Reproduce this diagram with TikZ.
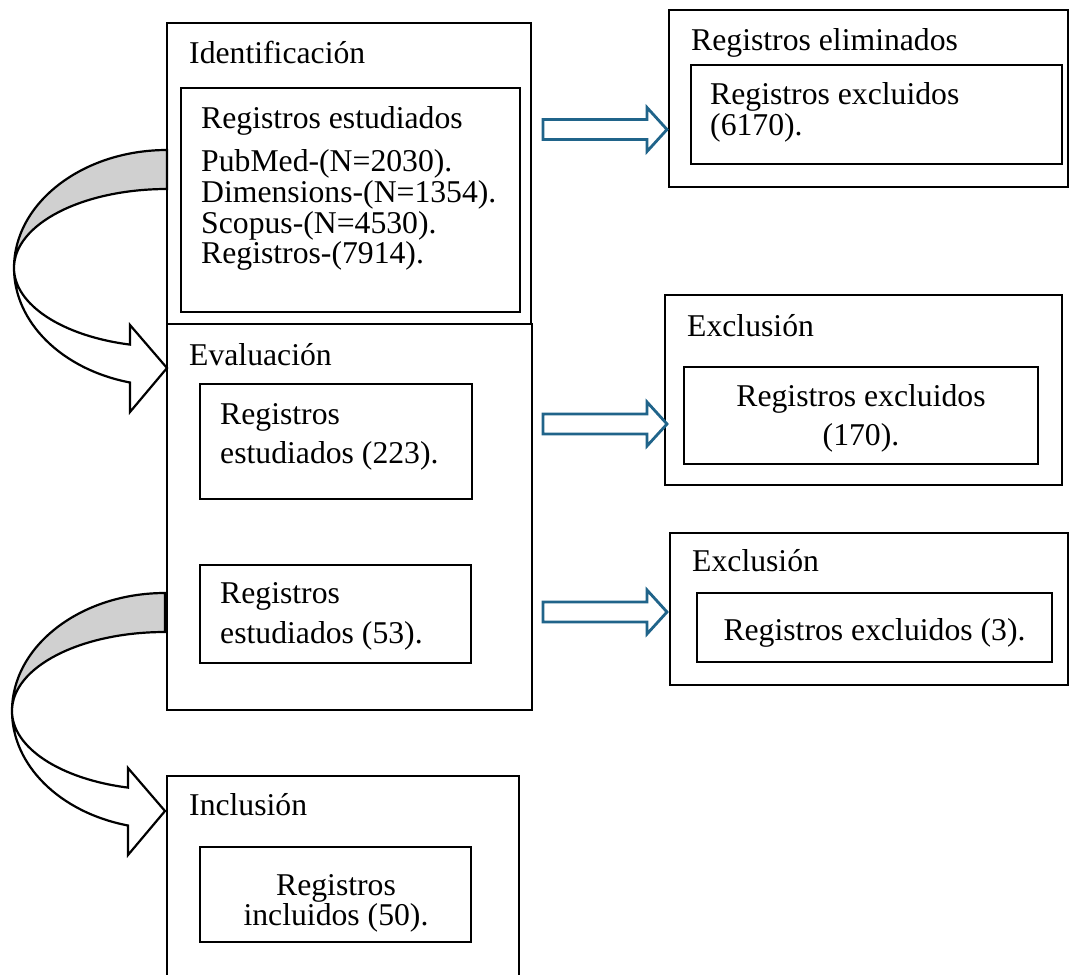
\documentclass[tikz,border=0pt]{standalone}
\usepackage{fontspec}
\setmainfont{Liberation Serif}
\definecolor{arrowblue}{RGB}{32,100,138}
\definecolor{bandgray}{RGB}{208,208,208}
\newcommand\diagfont{\fontsize{31.7}{29}\selectfont}
\begin{document}
\begin{tikzpicture}[x=1pt,y=-1pt,
  outerbox/.style={draw, line width=2pt, anchor=north west, inner sep=0pt, outer sep=0pt},
  innerbox/.style={draw, line width=1.3pt, anchor=north west, inner sep=0pt, outer sep=0pt},
  lbl/.style={anchor=base west, inner sep=0pt, font=\diagfont},
  txtc/.style={anchor=base, inner sep=0pt, font=\diagfont},
  blockarrow/.style={draw=arrowblue, fill=white, line width=2.8pt, line join=miter},
  curvedarrow/.style={draw=black, line width=2.2pt, line join=miter},
]
\useasboundingbox (0,0) rectangle (1069,975);

% curved arrows (left side)
\foreach \dx/\dy in {0/0, -2/443}{
  \begin{scope}[shift={(\dx,\dy)}]
    \filldraw[curvedarrow, fill=bandgray] (167,150) .. controls (82.5,150) and (14,203) .. (14,268)
      .. controls (14,224) and (82.5,189) .. (167,189) -- cycle;
    \filldraw[curvedarrow, fill=white] (14,268) .. controls (14,304.3) and (61.8,335.9) .. (130,344.6)
      -- (130,325) -- (167,368) -- (130,412) -- (130,382.5)
      .. controls (61.8,369.4) and (14,322.2) .. (14,268) -- cycle;
  \end{scope}
}

% left column boxes
\node[outerbox, minimum width=364pt, minimum height=301pt] (idbox) at (167,23) {};
\node[innerbox, minimum width=339pt, minimum height=224pt] (idin) at (181,88) {};
\node[outerbox, minimum width=365pt, minimum height=386pt] (evbox) at (167,324) {};
\node[innerbox, minimum width=272pt, minimum height=115pt] (ev1) at (200,384) {};
\node[innerbox, minimum width=271pt, minimum height=98pt] (ev2) at (200,565) {};
\begin{scope}
  \clip (0,0) rectangle (1069,975);
  \node[outerbox, minimum width=352pt, minimum height=215pt] (incbox) at (167,776) {};
\end{scope}
\node[innerbox, minimum width=271pt, minimum height=95pt] (incin) at (200,847) {};

% right column boxes
\node[outerbox, minimum width=399pt, minimum height=177pt] (elim) at (669,10) {};
\node[innerbox, minimum width=371pt, minimum height=99pt] (elimin) at (691,65) {};
\node[outerbox, minimum width=397pt, minimum height=190pt] (exc1) at (665,295) {};
\node[innerbox, minimum width=354pt, minimum height=97pt] (exc1in) at (684,367) {};
\node[outerbox, minimum width=398pt, minimum height=152pt] (exc2) at (670,533) {};
\node[innerbox, minimum width=355pt, minimum height=69pt] (exc2in) at (697,593) {};

% texts
\node[lbl] (tid) at (189,63) {Identificación};
\node[lbl] (tidin) at (201,128) {\begin{tabular}[t]{@{}l@{}}Registros estudiados\\[13pt]
  PubMed-(N=2030).\\ Dimensions-(N=1354).\\ Scopus-(N=4530).\\ Registros-(7914).\end{tabular}};
\node[lbl] (tev) at (189,365) {Evaluación};
\node[lbl] (tev1) at (220,424) {\begin{tabular}[t]{@{}l@{}}Registros\\[9pt] estudiados (223).\end{tabular}};
\node[lbl] (tev2) at (220,603) {\begin{tabular}[t]{@{}l@{}}Registros\\[10pt] estudiados (53).\end{tabular}};
\node[lbl] (tinc) at (189,815) {Inclusión};
\node[txtc] (tincin) at (336,895) {\begin{tabular}[t]{@{}c@{}}Registros\\ incluidos (50).\end{tabular}};
\node[lbl] (telim) at (691,50) {Registros eliminados};
\node[lbl] (telimin) at (710,104) {\begin{tabular}[t]{@{}l@{}}Registros excluidos\\[1pt] (6170).\end{tabular}};
\node[lbl] (texc1) at (687,336) {Exclusión};
\node[txtc] (texc1in) at (861,406) {\begin{tabular}[t]{@{}c@{}}Registros excluidos\\[9pt] (170).\end{tabular}};
\node[lbl] (texc2) at (692,571) {Exclusión};
\node[txtc] (texc2in) at (874.5,640) {Registros excluidos (3).};

% block arrows (blue)
\foreach \y in {129.5, 424, 612}{
  \filldraw[blockarrow] (543,\y-10) -- (647,\y-10) -- (647,\y-22) -- (667,\y)
    -- (647,\y+22) -- (647,\y+10) -- (543,\y+10) -- cycle;
}
\end{tikzpicture}
\end{document}
